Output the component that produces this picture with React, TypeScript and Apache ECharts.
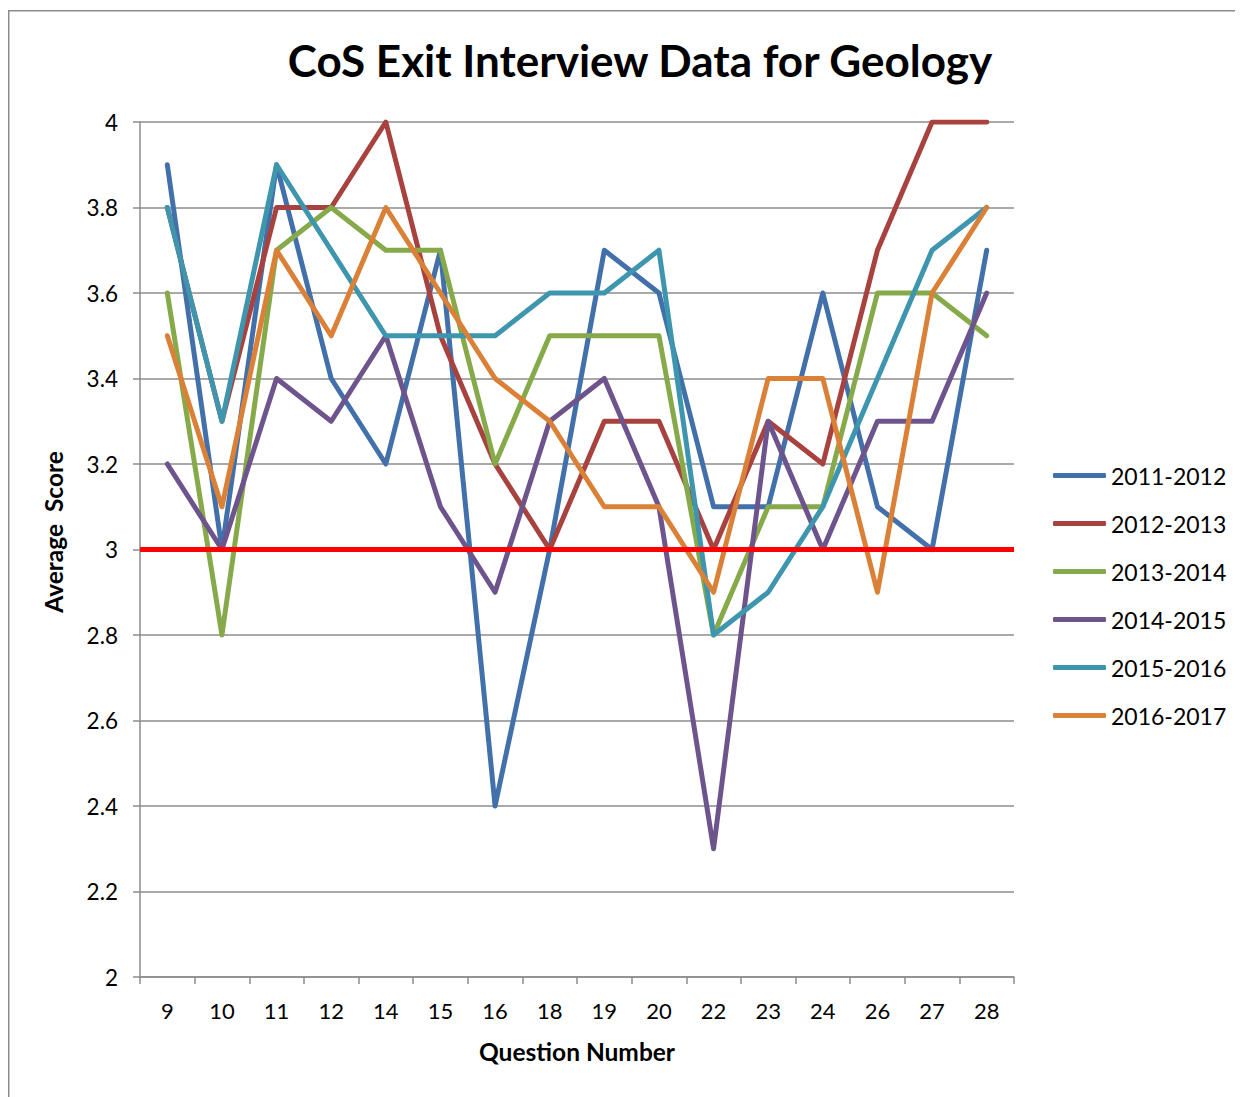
import React, { useEffect, useRef } from "react";
import * as echarts from "echarts";

const categories = ["9", "10", "11", "12", "14", "15", "16", "18", "19", "20", "22", "23", "24", "26", "27", "28"];
const seriesNames = ["2011-2012", "2012-2013", "2013-2014", "2014-2015", "2015-2016", "2016-2017"];
const s2011 = [3.9, 3.0, 3.9, 3.4, 3.2, 3.7, 2.4, 3.0, 3.7, 3.6, 3.1, 3.1, 3.6, 3.1, 3.0, 3.7];
const s2012 = [3.8, 3.3, 3.8, 3.8, 4.0, 3.5, 3.2, 3.0, 3.3, 3.3, 3.0, 3.3, 3.2, 3.7, 4.0, 4.0];
const s2013 = [3.6, 2.8, 3.7, 3.8, 3.7, 3.7, 3.2, 3.5, 3.5, 3.5, 2.8, 3.1, 3.1, 3.6, 3.6, 3.5];
const s2014 = [3.2, 3.0, 3.4, 3.3, 3.5, 3.1, 2.9, 3.3, 3.4, 3.1, 2.3, 3.3, 3.0, 3.3, 3.3, 3.6];
const s2015 = [3.8, 3.3, 3.9, 3.7, 3.5, 3.5, 3.5, 3.6, 3.6, 3.7, 2.8, 2.9, 3.1, 3.4, 3.7, 3.8];
const s2016 = [3.5, 3.1, 3.7, 3.5, 3.8, 3.6, 3.4, 3.3, 3.1, 3.1, 2.9, 3.4, 3.4, 2.9, 3.6, 3.8];
const seriesData = [s2011, s2012, s2013, s2014, s2015, s2016];
const colors = ["#4270AA", "#A8423F", "#86A94A", "#6E548D", "#3D96AE", "#DA8137"];
const thresholdValue = 3;

const FONT = "Lato, 'Open Sans', sans-serif";

export default function App() {
  const ref = useRef<HTMLDivElement>(null);
  useEffect(() => {
    if (!ref.current) return;
    const chart = echarts.init(ref.current, null, { renderer: "svg" });
    const lines = seriesData.map((d, i) => ({
      name: seriesNames[i],
      type: "line",
      data: d,
      symbol: "none",
      lineStyle: { width: 5, color: colors[i], cap: "round", join: "round" },
      itemStyle: { color: colors[i] },
      z: 2,
    }));
    const option = {
      animation: false,
      backgroundColor: "#ffffff",
      color: colors,
      title: {
        text: "CoS Exit Interview Data for Geology",
        left: 627,
        top: 25,
        textAlign: "center",
        textStyle: { fontFamily: FONT, fontWeight: "bold", fontSize: 44, color: "#000" },
      },
      legend: {
        orient: "vertical",
        left: 1040,
        top: 451,
        icon: "roundRect",
        itemWidth: 53,
        itemHeight: 5,
        itemGap: 25,
        textStyle: { fontFamily: FONT, fontSize: 23, color: "#000" },
        data: seriesNames,
      },
      grid: { left: 132, right: 229, top: 114, bottom: 120, containLabel: false },
      xAxis: {
        type: "category",
        data: categories,
        boundaryGap: true,
        name: "Question Number",
        nameLocation: "middle",
        nameGap: 62,
        nameTextStyle: { fontFamily: FONT, fontWeight: "bold", fontSize: 24.5, color: "#000" },
        axisLine: { lineStyle: { color: "#8c8c8c", width: 1.5 } },
        axisTick: { show: true, length: 7, lineStyle: { color: "#8c8c8c", width: 1.5 } },
        axisLabel: { fontFamily: FONT, fontSize: 22, color: "#000", margin: 22 },
        splitLine: { show: false },
      },
      yAxis: {
        type: "value",
        min: 2,
        max: 4,
        interval: 0.2,
        axisLine: { show: true, lineStyle: { color: "#8c8c8c", width: 1.5 } },
        axisTick: { show: true, length: 7, lineStyle: { color: "#8c8c8c", width: 1.5 } },
        axisLabel: {
          fontFamily: FONT,
          fontSize: 22.5,
          color: "#000",
          margin: 22,
          formatter: (v: number) => String(Math.round(v * 10) / 10),
        },
        splitLine: { show: true, lineStyle: { color: "#8c8c8c", width: 1.5 } },
      },
      graphic: [
        {
          type: "rect",
          shape: { x: 0.75, y: 2.75, width: 1400, height: 1300 },
          style: { fill: "none", stroke: "#8c8c8c", lineWidth: 1.5 },
          silent: true,
        },
        {
          type: "text",
          x: 45,
          y: 524,
          rotation: Math.PI / 2,
          style: {
            text: "Average  Score",
            fontFamily: FONT,
            fontWeight: "bold",
            fontSize: 24.5,
            fill: "#000",
            align: "center",
            verticalAlign: "middle",
          },
        },
      ],
      series: [
        ...lines,
        {
          name: "threshold",
          type: "line",
          data: [],
          symbol: "none",
          z: 5,
          markLine: {
            silent: true,
            symbol: ["none", "none"],
            label: { show: false },
            lineStyle: { color: "#FF0000", width: 5, type: "solid" },
            data: [{ yAxis: thresholdValue }],
          },
        },
      ],
    };
    chart.setOption(option as any);
    return () => chart.dispose();
  }, []);
  return <div ref={ref} style={{ width: 1235, height: 1089 }} />;
}
